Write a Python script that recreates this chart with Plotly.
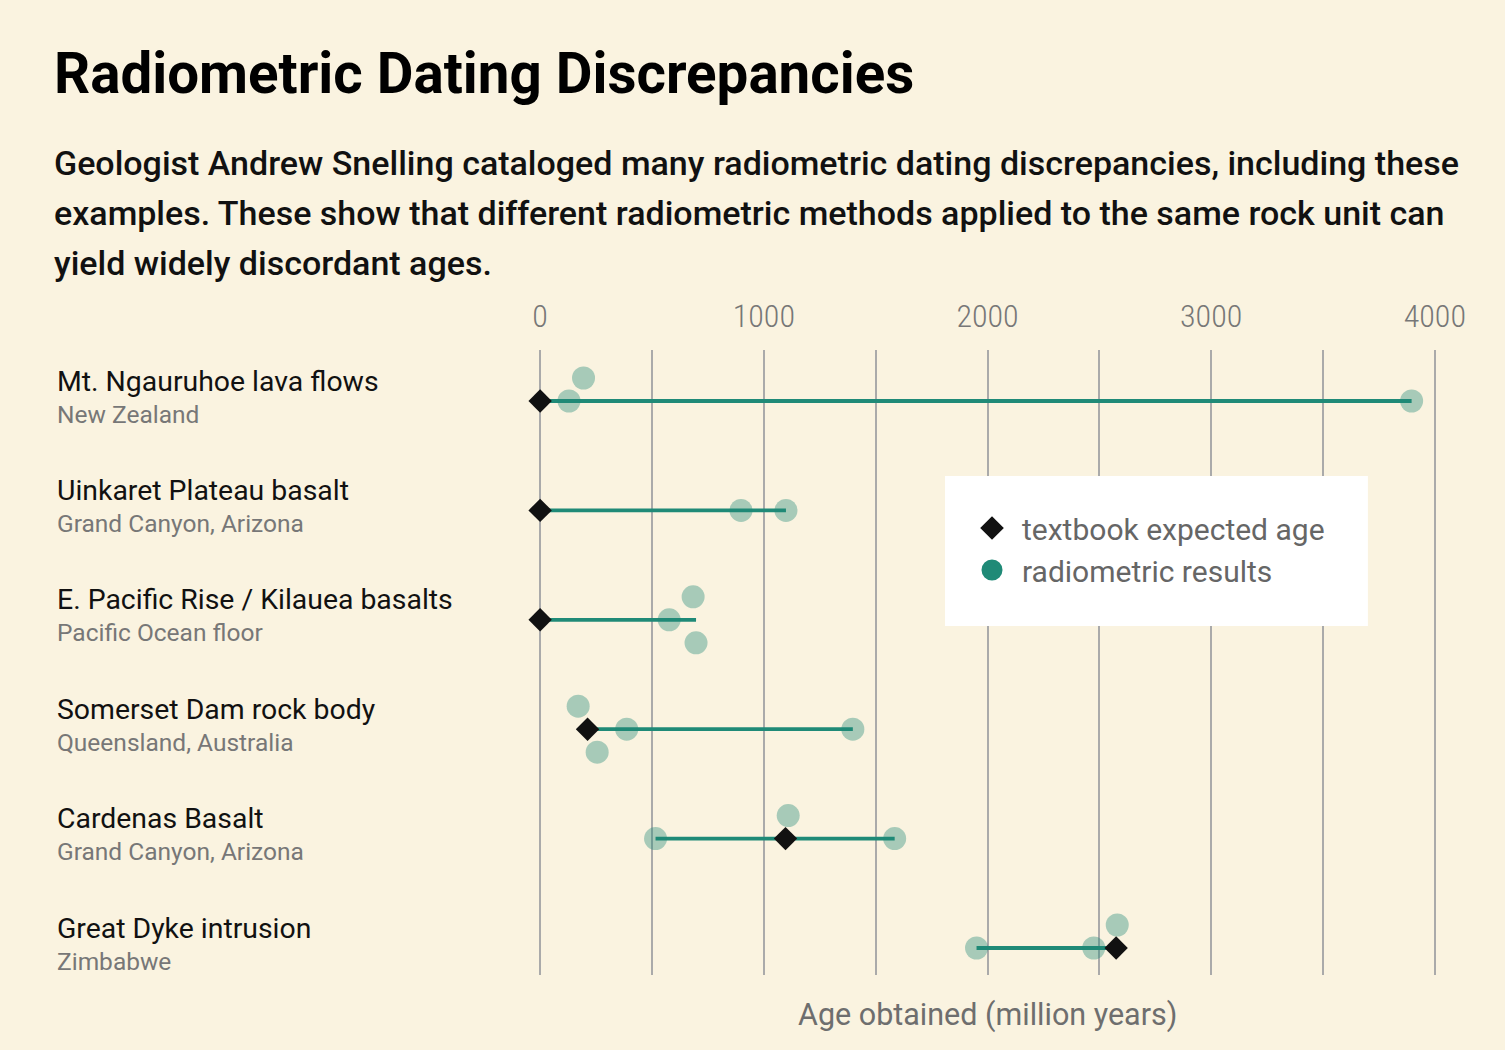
import plotly.graph_objects as go

# ---------------- data ----------------
rock_names = [
    "Mt. Ngauruhoe lava flows",
    "Uinkaret Plateau basalt",
    "E. Pacific Rise / Kilauea basalts",
    "Somerset Dam rock body",
    "Cardenas Basalt",
    "Great Dyke intrusion",
]
rock_places = [
    "New Zealand",
    "Grand Canyon, Arizona",
    "Pacific Ocean floor",
    "Queensland, Australia",
    "Grand Canyon, Arizona",
    "Zimbabwe",
]
expected_age = [0, 0, 0, 212, 1097, 2575]
radiometric_results = [
    [129, 194, 3896],
    [898, 1099],
    [577, 684, 697],
    [387, 170, 255, 1398],
    [516, 1109, 1585],
    [1951, 2475, 2580],
]
tick_values = [0, 1000, 2000, 3000, 4000]
tick_labels = ["0", "1000", "2000", "3000", "4000"]

title_text = "Radiometric Dating Discrepancies"
subtitle_lines = [
    "Geologist Andrew Snelling cataloged many radiometric dating discrepancies, including these",
    "examples. These show that different radiometric methods applied to the same rock unit can",
    "yield widely discordant ages.",
]
x_title = "Age obtained (million years)"

# ---------------- layout geometry ----------------
W, H = 1505, 1050
X0PIX, X4000PIX = 540, 1435          # pixel of age 0 and 4000
PAD = 14                             # small range padding so edge gridlines draw
SCALE = (X4000PIX - X0PIX) / 4000.0
L = X0PIX - PAD * SCALE
R = X4000PIX + PAD * SCALE
T, B = 350, 975
PW, PH = R - L, B - T
ROW0, ROWSTEP = 401, 109.4
LANE = 23 / ROWSTEP


def px(x):
    return (x - L) / PW


def py(y):
    return 1 - (y - T) / PH


y_top = (T - ROW0) / ROWSTEP
y_bot = (B - ROW0) / ROWSTEP

TEAL = "#1f8a77"

# jitter: place dots on lanes to avoid overlap
DOT_DOT, DIA_DOT = 150, 80
dot_x, dot_y = [], []
line_x, line_y = [], []
for i, (exp, vals) in enumerate(zip(expected_age, radiometric_results)):
    placed = []  # (value, lane)
    for v in vals:
        for lane in (0, -1, 1):
            ok = True
            if lane == 0 and abs(v - exp) < DIA_DOT:
                ok = False
            for pv, pl in placed:
                if pl == lane and abs(v - pv) < DOT_DOT:
                    ok = False
            if ok:
                break
        placed.append((v, lane))
        dot_x.append(v)
        dot_y.append(i + lane * LANE)
    allv = vals + [exp]
    line_x += [min(allv), max(allv), None]
    line_y += [i, i, None]

fig = go.Figure()
fig.add_trace(go.Scatter(
    x=line_x, y=line_y, mode="lines", cliponaxis=False,
    line=dict(color=TEAL, width=3.8), showlegend=False, hoverinfo="skip"))
fig.add_trace(go.Scatter(
    x=dot_x, y=dot_y, mode="markers", cliponaxis=False,
    marker=dict(color=TEAL, size=23, opacity=0.38, line=dict(width=0)),
    showlegend=False))
fig.add_trace(go.Scatter(
    x=expected_age, y=list(range(len(expected_age))), mode="markers",
    cliponaxis=False,
    marker=dict(color="#111111", size=18, symbol="diamond", line=dict(width=0)),
    showlegend=False, name="textbook expected age"))
# legend-only entries
fig.add_trace(go.Scatter(
    x=[None], y=[None], mode="markers",
    marker=dict(color="#111111", size=16, symbol="diamond",
                line=dict(width=2, color="#111111")),
    name="textbook expected age"))
fig.add_trace(go.Scatter(
    x=[None], y=[None], mode="markers",
    marker=dict(color=TEAL, size=16, line=dict(width=5, color=TEAL)),
    name="radiometric results"))

COND = "Roboto Condensed, Roboto"
annotations = []
annotations.append(dict(
    text="<b>" + title_text + "</b>", x=px(52), y=py(74), xref="paper", yref="paper",
    xanchor="left", yanchor="middle", showarrow=False,
    font=dict(family="Roboto", size=56.5, color="#000000", weight=900)))
for k, line in enumerate(subtitle_lines):
    annotations.append(dict(
        text=line, x=px(52), y=py(163 + 50 * k), xref="paper", yref="paper",
        xanchor="left", yanchor="middle", showarrow=False,
        font=dict(family="Roboto", size=34, color="#111111", weight=500)))
for i, (nm, pl) in enumerate(zip(rock_names, rock_places)):
    annotations.append(dict(
        text=nm, x=px(55), y=i, xref="paper", yref="y", yshift=20,
        xanchor="left", yanchor="middle", showarrow=False,
        font=dict(family="Roboto", size=28.4, color="#111111")))
    annotations.append(dict(
        text=pl, x=px(55), y=i, xref="paper", yref="y", yshift=-13,
        xanchor="left", yanchor="middle", showarrow=False,
        font=dict(family="Roboto", size=24.5, color="#777777")))
annotations.append(dict(
    text=x_title, x=px((X0PIX + X4000PIX) / 2), y=py(1015), xref="paper", yref="paper",
    xanchor="center", yanchor="middle", showarrow=False,
    font=dict(family="Roboto", size=30.5, color="#6e6e6e")))

fig.update_layout(
    width=W, height=H,
    margin=dict(l=L, r=W - R, t=T, b=H - B, pad=0),
    paper_bgcolor="#faf3e0", plot_bgcolor="rgba(0,0,0,0)",
    showlegend=True,
    legend=dict(
        x=px(962), y=py(502), xanchor="left", yanchor="top",
        bgcolor="rgba(0,0,0,0)", borderwidth=0,
        font=dict(family="Roboto", size=30, color="#666666"),
        itemsizing="trace", itemwidth=50, traceorder="normal"),
    xaxis=dict(
        side="top", range=[-PAD, 4000 + PAD], tickvals=tick_values, ticktext=tick_labels,
        showgrid=True, gridcolor="#aaaaaa", gridwidth=1.5, zeroline=False,
        showline=False, ticks="",
        tickfont=dict(family=COND, size=32, color="#777777", weight=300),
        ticklabelstandoff=16,
        minor=dict(dtick=500, showgrid=True, gridcolor="#aaaaaa", gridwidth=1.5),
        fixedrange=True),
    yaxis=dict(
        range=[y_bot, y_top], showgrid=False, zeroline=False, showticklabels=False,
        showline=False, fixedrange=True),
    annotations=annotations,
    shapes=[dict(
        type="rect", xref="paper", yref="paper", layer="above",
        x0=px(945), x1=px(1368), y0=py(626), y1=py(476),
        fillcolor="#ffffff", line=dict(width=0))],
)

fig.write_html("out.html", config={"displayModeBar": False},
               post_script="document.body.style.margin='0px';")
